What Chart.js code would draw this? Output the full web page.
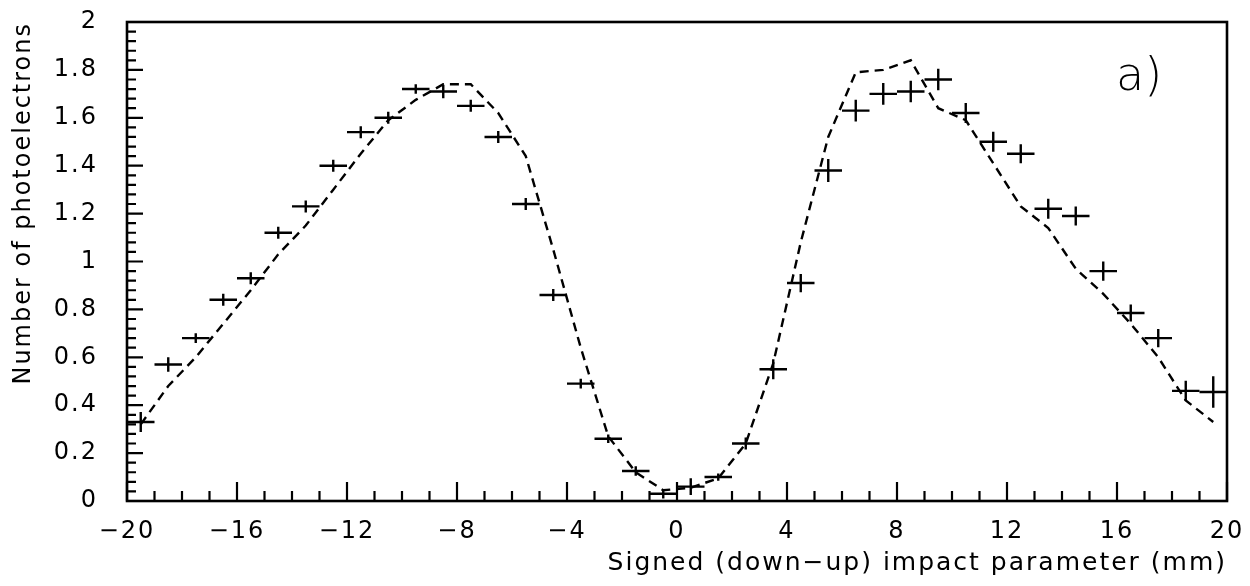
<!DOCTYPE html>
<html>
<head>
<meta charset="utf-8">
<script src="https://cdn.jsdelivr.net/npm/chart.js@4.4.1/dist/chart.umd.min.js"></script>
<style>
html, body { margin: 0; padding: 0; background: #fff; }
#contenedor { width: 1250px; height: 586px; position: relative; }
</style>
</head>
<body>
<div id="contenedor"><canvas id="grafico"></canvas></div>
<script>
// centros de los bins (mm)
const posiciones = [-19.5, -18.5, -17.5, -16.5, -15.5, -14.5, -13.5, -12.5, -11.5, -10.5,
    -9.5, -8.5, -7.5, -6.5, -5.5, -4.5, -3.5, -2.5, -1.5, -0.5,
    0.5, 1.5, 2.5, 3.5, 4.5, 5.5, 6.5, 7.5, 8.5, 9.5,
    10.5, 11.5, 12.5, 13.5, 14.5, 15.5, 16.5, 17.5, 18.5, 19.5];

// datos medidos y su error
const medidos = [0.33, 0.57, 0.68, 0.84, 0.93, 1.12, 1.23, 1.40, 1.54, 1.60,
    1.72, 1.71, 1.65, 1.52, 1.24, 0.86, 0.49, 0.26, 0.125, 0.03,
    0.06, 0.10, 0.24, 0.55, 0.91, 1.38, 1.63, 1.70, 1.71, 1.76,
    1.62, 1.50, 1.45, 1.22, 1.19, 0.96, 0.785, 0.68, 0.46, 0.455];
const errores = [0.042, 0.03, 0.02, 0.025, 0.025, 0.025, 0.025, 0.025, 0.025, 0.025,
    0.02, 0.028, 0.025, 0.025, 0.025, 0.025, 0.02, 0.018, 0.02, 0.02,
    0.035, 0.015, 0.025, 0.042, 0.038, 0.048, 0.045, 0.045, 0.045, 0.045,
    0.042, 0.042, 0.04, 0.042, 0.04, 0.04, 0.035, 0.038, 0.042, 0.066];

// simulación (línea discontinua)
const simulados = [0.32, 0.48, 0.60, 0.74, 0.88, 1.03, 1.15, 1.30, 1.45, 1.59,
    1.675, 1.74, 1.74, 1.62, 1.44, 1.05, 0.64, 0.27, 0.12, 0.045,
    0.055, 0.095, 0.24, 0.575, 1.08, 1.52, 1.79, 1.80, 1.84, 1.64,
    1.59, 1.41, 1.23, 1.14, 0.97, 0.865, 0.74, 0.60, 0.42, 0.33];

const tituloX = 'Signed (down\u2212up) impact parameter (mm)';
const tituloY = 'Number of photoelectrons';
const etiquetaPanel = 'a)';

const fuente = '"DejaVu Sans", sans-serif';

function menos(v) {
    return v < 0 ? '\u2212' + Math.abs(v) : String(v);
}

// marco, marcas hacia dentro, barras de error
const marcoYMarcas = {
    id: 'marcoYMarcas',
    beforeDraw(chart) {
        chart.ctx.letterSpacing = '2px';
    },
    afterDatasetsDraw(chart) {
        const { ctx, chartArea: a, scales: { x, y } } = chart;
        ctx.save();
        ctx.strokeStyle = '#000';
        ctx.lineCap = 'butt';

        ctx.lineWidth = 2.4;
        posiciones.forEach((p, i) => {
            const cx = x.getPixelForValue(p);
            const cy = y.getPixelForValue(medidos[i]);
            ctx.beginPath();
            ctx.moveTo(x.getPixelForValue(p - 0.5), cy);
            ctx.lineTo(x.getPixelForValue(p + 0.5), cy);
            ctx.moveTo(cx, y.getPixelForValue(medidos[i] - errores[i]));
            ctx.lineTo(cx, y.getPixelForValue(medidos[i] + errores[i]));
            ctx.stroke();
        });

        ctx.lineWidth = 2.2;
        ctx.beginPath();
        for (let k = -20; k <= 20; k++) {
            const px = x.getPixelForValue(k);
            const largo = k % 4 === 0 ? 19 : 10;
            ctx.moveTo(px, a.bottom);
            ctx.lineTo(px, a.bottom - largo);
        }
        for (let k = 0; k <= 50; k++) {
            const py = y.getPixelForValue(k * 0.04);
            const largo = k % 5 === 0 ? 16 : 9;
            ctx.moveTo(a.left, py);
            ctx.lineTo(a.left + largo, py);
        }
        ctx.stroke();

        ctx.lineWidth = 2.6;
        ctx.strokeRect(a.left, a.top, a.width, a.height);
        ctx.restore();
    },
    afterDraw(chart) {
        const { ctx, chartArea: a } = chart;
        ctx.save();
        ctx.letterSpacing = '0px';
        ctx.fillStyle = '#000';
        ctx.font = '300 46px ' + fuente;
        ctx.textAlign = 'left';
        ctx.textBaseline = 'middle';
        ctx.fillText(etiquetaPanel, a.right - 111, a.top + 56);
        ctx.restore();
    }
};

new Chart(document.getElementById('grafico'), {
    type: 'scatter',
    data: {
        datasets: [
            {
                label: 'datos',
                data: posiciones.map((p, i) => ({ x: p, y: medidos[i] })),
                pointRadius: 0,
                showLine: false
            },
            {
                label: 'simulación',
                data: posiciones.map((p, i) => ({ x: p, y: simulados[i] })),
                showLine: true,
                borderColor: '#000',
                borderWidth: 2.4,
                borderDash: [9, 6],
                pointRadius: 0,
                tension: 0,
                clip: false
            }
        ]
    },
    options: {
        responsive: true,
        maintainAspectRatio: false,
        devicePixelRatio: 1,
        animation: false,
        events: [],
        layout: { padding: { left: 0, right: 23, top: 22, bottom: 0 } },
        plugins: {
            legend: { display: false },
            tooltip: { enabled: false }
        },
        scales: {
            x: {
                type: 'linear',
                min: -20,
                max: 20,
                grid: { display: false },
                border: { display: false },
                ticks: {
                    stepSize: 4,
                    padding: 8,
                    color: '#000',
                    font: { family: fuente, size: 24 },
                    maxRotation: 0,
                    callback: v => menos(v)
                },
                title: {
                    display: true,
                    text: tituloX,
                    align: 'end',
                    color: '#000',
                    font: { family: fuente, size: 25 },
                    padding: { top: 9, bottom: 8 }
                },
                afterFit(scale) {
                    scale.height = 85;
                    scale.paddingLeft = 0;
                    scale.paddingRight = 0;
                }
            },
            y: {
                type: 'linear',
                min: 0,
                max: 2,
                grid: { display: false },
                border: { display: false },
                ticks: {
                    stepSize: 0.2,
                    padding: 21,
                    color: '#000',
                    font: { family: fuente, size: 24 },
                    callback: v => String(+v.toFixed(1))
                },
                title: {
                    display: true,
                    text: tituloY,
                    align: 'end',
                    color: '#000',
                    font: { family: fuente, size: 24 },
                    padding: { top: 9, bottom: 9 }
                },
                afterFit(scale) {
                    scale.width = 127;
                    scale.paddingTop = 0;
                    scale.paddingBottom = 0;
                }
            }
        }
    },
    plugins: [marcoYMarcas]
});
</script>
</body>
</html>
